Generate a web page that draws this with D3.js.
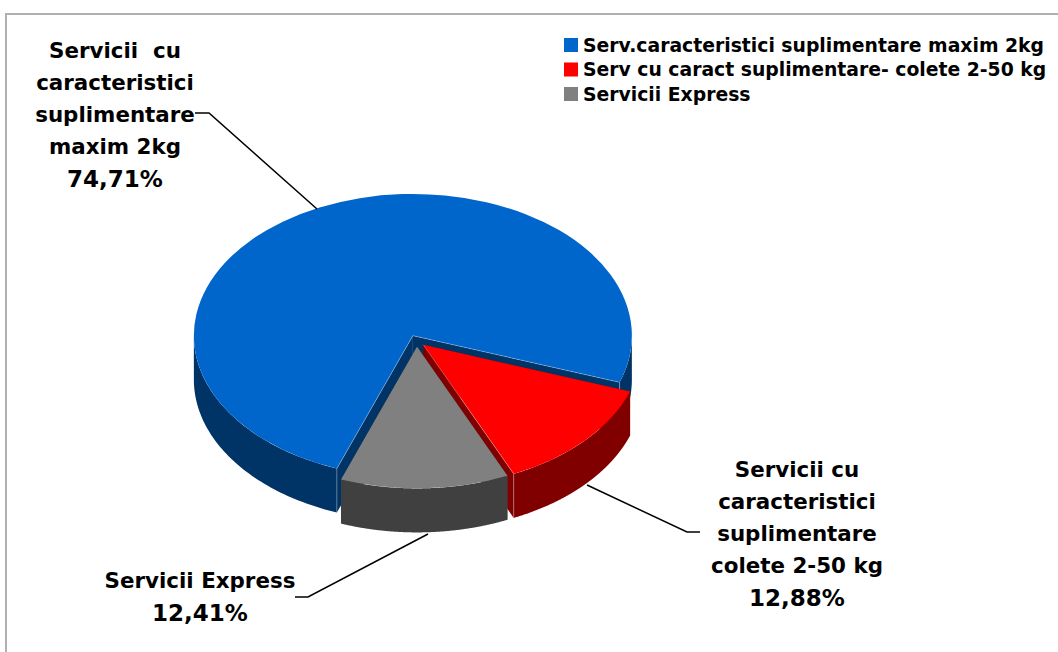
<!DOCTYPE html>
<html>
<head>
<meta charset="utf-8">
<script src="https://cdn.jsdelivr.net/npm/d3@7"></script>
<style>
  html, body { margin: 0; padding: 0; background: #fff; }
  svg { display: block; }
  text { font-family: "DejaVu Sans", Verdana, sans-serif; font-weight: bold; fill: #000; }
</style>
</head>
<body>
<svg id="chart" width="1058" height="652"></svg>
<script>
// Datos del gráfico
const categories = ["Serv.caracteristici suplimentare maxim 2kg", "Serv cu caract suplimentare- colete 2-50 kg", "Servicii Express"];
const shares = [74.71, 12.88, 12.41];
const topColors = ["#0066cc", "#ff0000", "#808080"];
const wallColors = ["#003366", "#800000", "#404040"];
const labelLines = [
    ["Servicii  cu", "caracteristici", "suplimentare", "maxim 2kg", "74,71%"],
    ["Servicii cu", "caracteristici", "suplimentare", "colete 2-50 kg", "12,88%"],
    ["Servicii Express", "12,41%"]
];
const labelCenters = [[115, 51], [797, 470], [200, 581]];
const leaders = [
    [[195, 113], [209, 113], [317, 209]],
    [[587, 485], [687, 532], [700, 532]],
    [[428, 534], [308, 597], [295, 597]]
];

const svg = d3.select("#chart");

// Marco del gráfico
svg.append("path")
   .attr("d", "M6,652V14H1058")
   .attr("fill", "none")
   .attr("stroke", "#b0b0b0")
   .attr("stroke-width", 2);

// Geometría del pastel en perspectiva
const cx = 416.7, cy = 340.9;
const rx = 219, tilt = 0.647, depth = 44, explode = 9;
const toRad = Math.PI / 180;

const slices = d3.pie().sort(null).value(d => d)
                 .startAngle(200.3 * toRad)
                 .endAngle(200.3 * toRad + 2 * Math.PI)(shares);

const arc = d3.arc().innerRadius(0).outerRadius(rx);
const px = a => rx * Math.sin(a);
const py = a => -rx * Math.cos(a) * tilt;
const wall = d3.area().x(a => px(a)).y0(a => py(a)).y1(a => py(a) + depth);

slices.forEach((s, i) => {
    const mid = (s.startAngle + s.endAngle) / 2;
    const ox = cx + explode * Math.sin(mid);
    const oy = cy - explode * Math.cos(mid) * tilt;
    const g = svg.append("g").attr("transform", `translate(${ox},${oy})`);

    // Caras de corte
    [s.startAngle, s.endAngle].forEach(a => {
        g.append("path")
         .attr("d", d3.line()([[0, 0], [px(a), py(a)], [px(a), py(a) + depth], [0, depth]]))
         .attr("fill", wallColors[i]);
    });

    // Pared exterior: se parte en tramos porque la porción azul da la vuelta
    const steps = d3.range(0, 241).map(k => s.startAngle + (s.endAngle - s.startAngle) * k / 240);
    let tramo = [];
    steps.forEach(a => {
        if (Math.cos(a) < 0.01) {
            tramo.push(a);
        } else if (tramo.length) {
            g.append("path").attr("d", wall(tramo)).attr("fill", wallColors[i]);
            tramo = [];
        }
    });
    if (tramo.length) g.append("path").attr("d", wall(tramo)).attr("fill", wallColors[i]);

    // Cara superior
    g.append("path")
     .attr("d", arc(s))
     .attr("transform", `scale(1,${tilt})`)
     .attr("fill", topColors[i]);

    // Filo claro solo en las caras de corte que se ven
    [[s.startAngle, -1], [s.endAngle, 1]].forEach(([a, lado]) => {
        if (Math.sin(a) * lado > 0) {
            g.append("path")
             .attr("d", d3.line()([[0, 0], [px(a), py(a)], [px(a), py(a) + depth]]))
             .attr("fill", "none")
             .attr("stroke", "#fff")
             .attr("stroke-opacity", 0.4)
             .attr("stroke-width", 0.75);
        }
    });
});

// Líneas guía
leaders.forEach(pts => {
    svg.append("path")
       .attr("d", d3.line()(pts))
       .attr("fill", "none")
       .attr("stroke", "#000")
       .attr("stroke-width", 1.5);
});

// Etiquetas de datos
labelLines.forEach((lines, i) => {
    lines.forEach((line, j) => {
        svg.append("text")
           .attr("x", labelCenters[i][0])
           .attr("y", labelCenters[i][1] + j * 32)
           .attr("dy", "0.35em")
           .attr("text-anchor", "middle")
           .attr("font-size", line.endsWith("%") ? "23px" : "21.4px")
           .style("white-space", "pre")
           .text(line);
    });
});

// Leyenda
const legendY = d3.scaleLinear().domain([0, 2]).range([45, 94]);
categories.forEach((c, i) => {
    svg.append("rect")
       .attr("x", 564).attr("y", legendY(i) - 7)
       .attr("width", 14).attr("height", 14)
       .attr("fill", topColors[i]);
    svg.append("text")
       .attr("x", 583).attr("y", legendY(i))
       .attr("dy", "0.35em")
       .attr("font-size", "18.8px")
       .text(c);
});
</script>
</body>
</html>
